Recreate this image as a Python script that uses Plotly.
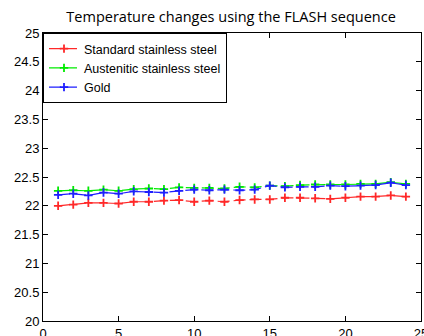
import plotly.graph_objects as go

x = list(range(1, 25))
standard = [22.00, 22.02, 22.05, 22.05, 22.04, 22.07, 22.07, 22.09, 22.10, 22.07, 22.09, 22.07,
            22.10, 22.11, 22.11, 22.14, 22.14, 22.13, 22.12, 22.14, 22.16, 22.16, 22.18, 22.16]
austenitic = [22.26, 22.27, 22.26, 22.28, 22.26, 22.29, 22.30, 22.29, 22.32, 22.31, 22.31, 22.30,
              22.33, 22.32, 22.35, 22.34, 22.36, 22.37, 22.37, 22.37, 22.38, 22.38, 22.41, 22.38]
gold = [22.19, 22.21, 22.18, 22.23, 22.21, 22.25, 22.24, 22.23, 22.26, 22.28, 22.27, 22.28,
        22.27, 22.28, 22.35, 22.32, 22.33, 22.33, 22.35, 22.34, 22.35, 22.36, 22.40, 22.36]

names = ["Standard stainless steel", "Austenitic stainless steel", "Gold"]
colors = ["rgb(255,40,40)", "rgb(0,235,0)", "rgb(30,30,255)"]

fig = go.Figure()
for name, ys, c in zip(names, [standard, austenitic, gold], colors):
    fig.add_trace(go.Scatter(
        x=x, y=ys, name=name, mode="lines+markers",
        line=dict(color=c, width=1.2, dash="12px,4px"),
        marker=dict(symbol="cross-thin", size=6, line=dict(color=c, width=1.8)),
    ))

axis_common = dict(
    showgrid=False, zeroline=False, showline=True, linecolor="black", linewidth=1,
    mirror="ticks", ticks="inside", ticklen=5, tickcolor="black",
    tickfont=dict(family="Liberation Sans, Arial", size=13, color="black"),
    ticklabeloverflow="allow", automargin=False,
)
fig.update_xaxes(range=[0, 25], dtick=5, **axis_common)
fig.update_yaxes(range=[20, 25], dtick=0.5, **axis_common)

fig.update_layout(
    width=424, height=336,
    margin=dict(l=43, r=3, t=33, b=15, autoexpand=False),
    paper_bgcolor="white", plot_bgcolor="white",
    title=dict(text="Temperature changes using the FLASH sequence",
               x=0.545, xanchor="center", y=0.95, yanchor="middle",
               font=dict(family="Open Sans, Liberation Sans", size=14.5, color="black")),
    legend=dict(x=0.0, y=1.0, xanchor="left", yanchor="top",
                bordercolor="black", borderwidth=1, bgcolor="white",
                font=dict(family="Liberation Sans, Arial", size=12.5, color="black"),
                tracegroupgap=0, itemwidth=30),
    showlegend=True,
)

fig.write_html("out.html", config={"displayModeBar": False},
               post_script="document.body.style.margin='0';")
